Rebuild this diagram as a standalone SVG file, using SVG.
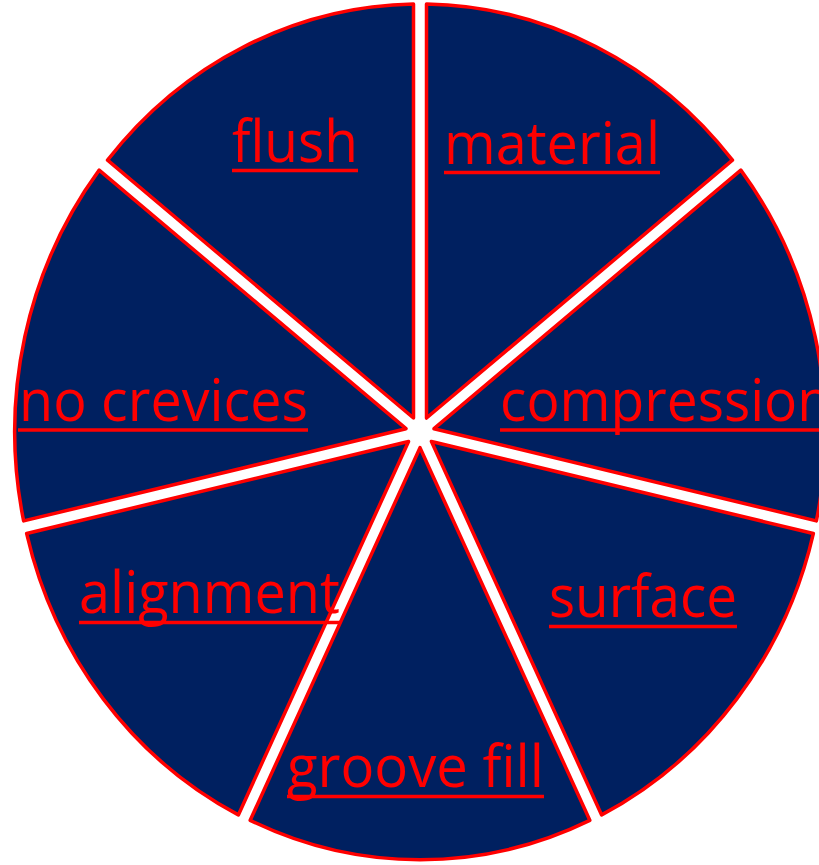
<svg xmlns="http://www.w3.org/2000/svg" width="819" height="865" viewBox="0 0 819 865">
<style>
.wedge{fill:#002060;stroke:#ff0000;stroke-width:3.5;stroke-linejoin:round}
.lbl{font-family:"Open Sans","Liberation Sans",sans-serif;font-size:59px;fill:#ff0000}
.ul{stroke:#ff0000;stroke-width:3.5}
</style>
<rect width="819" height="865" fill="#ffffff"/>
<g id="material">
<path class="wedge" d="M426.5,418.03 L426.5,4 A405,428 0 0 1 732.45,160.18 Z"/>
<text class="lbl" x="444" y="164" textLength="216" lengthAdjust="spacingAndGlyphs">material</text>
<line class="ul" x1="444" y1="172.5" x2="660" y2="172.5"/>
</g>
<g id="compression">
<path class="wedge" d="M434.01,428.69 L740.83,170.12 A405,428 0 0 1 816.37,520.92 Z"/>
<text class="lbl" x="500" y="421" textLength="331" lengthAdjust="spacingAndGlyphs">compression</text>
<line class="ul" x1="500" y1="430" x2="831" y2="430"/>
</g>
<g id="surface">
<path class="wedge" d="M431.45,441.45 L813.33,533.56 A405,428 0 0 1 601.63,814.92 Z"/>
<text class="lbl" x="549" y="617" textLength="188" lengthAdjust="spacingAndGlyphs">surface</text>
<line class="ul" x1="549" y1="626.5" x2="737" y2="626.5"/>
</g>
<g id="groove-fill">
<path class="wedge" d="M420,447.67 L589.81,820.32 A405,428 0 0 1 250.19,820.32 Z"/>
<text class="lbl" x="287" y="787" textLength="257" lengthAdjust="spacingAndGlyphs">groove fill</text>
<line class="ul" x1="287" y1="796.5" x2="544" y2="796.5"/>
</g>
<g id="alignment">
<path class="wedge" d="M408.55,441.45 L238.37,814.92 A405,428 0 0 1 26.67,533.56 Z"/>
<text class="lbl" x="79" y="613" textLength="261" lengthAdjust="spacingAndGlyphs">alignment</text>
<line class="ul" x1="79" y1="622.5" x2="340" y2="622.5"/>
</g>
<g id="no-crevices">
<path class="wedge" d="M405.99,428.69 L23.63,520.92 A405,428 0 0 1 99.17,170.12 Z"/>
<text class="lbl" x="19" y="421" textLength="289" lengthAdjust="spacingAndGlyphs">no crevices</text>
<line class="ul" x1="18" y1="430" x2="308" y2="430"/>
</g>
<g id="flush">
<path class="wedge" d="M413.5,418.03 L107.55,160.18 A405,428 0 0 1 413.5,4 Z"/>
<text class="lbl" x="232" y="162" textLength="126" lengthAdjust="spacingAndGlyphs">flush</text>
<line class="ul" x1="232" y1="170.5" x2="358" y2="170.5"/>
</g>
<g id="connectors"></g>
</svg>
